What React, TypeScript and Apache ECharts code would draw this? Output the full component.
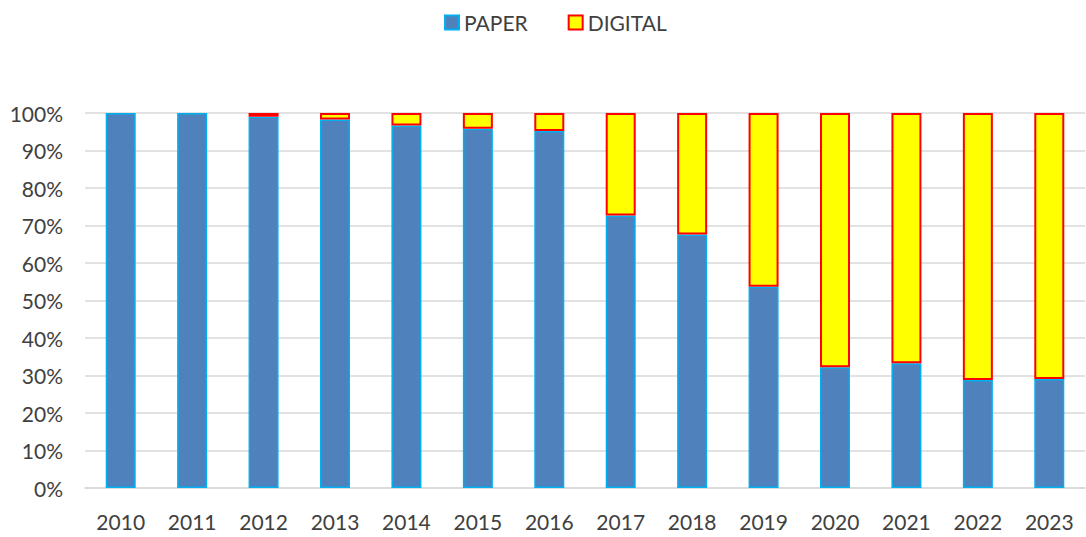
import React, { useEffect, useRef } from "react";
import * as echarts from "echarts";

const years = ["2010", "2011", "2012", "2013", "2014", "2015", "2016", "2017", "2018", "2019", "2020", "2021", "2022", "2023"];
const paper = [100, 100, 99, 98.3, 96.7, 95.8, 95.2, 72.7, 67.6, 53.7, 32.2, 33.3, 28.8, 29.1];
const digital = [0, 0, 1, 1.7, 3.3, 4.2, 4.8, 27.3, 32.4, 46.3, 67.8, 66.7, 71.2, 70.9];
const yTicks = [0, 10, 20, 30, 40, 50, 60, 70, 80, 90, 100];

export default function App() {
  const ref = useRef<HTMLDivElement>(null);
  useEffect(() => {
    document.body.style.margin = "0";
    const chart = echarts.init(ref.current!, undefined, { renderer: "svg" });
    const font = "Lato, 'Open Sans', sans-serif";
    chart.setOption({
      animation: false,
      textStyle: { fontFamily: font },
      legend: {
        top: 7,
        left: 439,
        icon: "rect",
        itemWidth: 14,
        itemHeight: 14,
        itemGap: 40,
        textStyle: { fontSize: 21, color: "#404040", fontFamily: font },
        data: ["PAPER", "DIGITAL"],
      },
      grid: { left: 85, right: 1, top: 113, bottom: 49, containLabel: false },
      xAxis: {
        type: "category",
        data: years,
        axisLine: { lineStyle: { color: "#D9D9D9", width: 1.5 } },
        axisTick: { show: false },
        axisLabel: { fontSize: 21, color: "#404040", margin: 23, fontFamily: font },
      },
      yAxis: {
        type: "value",
        min: 0,
        max: 100,
        interval: 10,
        axisLine: { show: false },
        axisTick: { show: false },
        splitLine: { lineStyle: { color: "#D9D9D9", width: 1.5 } },
        axisLabel: {
          fontSize: 21,
          color: "#404040",
          margin: 22,
          fontFamily: font,
          formatter: (v: number) => (yTicks.includes(v) ? v + "%" : ""),
        },
      },
      series: [
        {
          name: "PAPER",
          type: "bar",
          stack: "s",
          barWidth: "42%",
          data: paper,
          itemStyle: { color: "#4F81BD", borderColor: "#00B0F0", borderWidth: 1.5 },
        },
        {
          name: "DIGITAL",
          type: "bar",
          stack: "s",
          barWidth: "42%",
          data: digital.map((v) => (v === 0 ? "-" : v)),
          itemStyle: { color: "#FFFF00", borderColor: "#FF0000", borderWidth: 2 },
        },
      ],
    });
    return () => chart.dispose();
  }, []);
  return <div ref={ref} style={{ width: 1086, height: 537 }} />;
}
